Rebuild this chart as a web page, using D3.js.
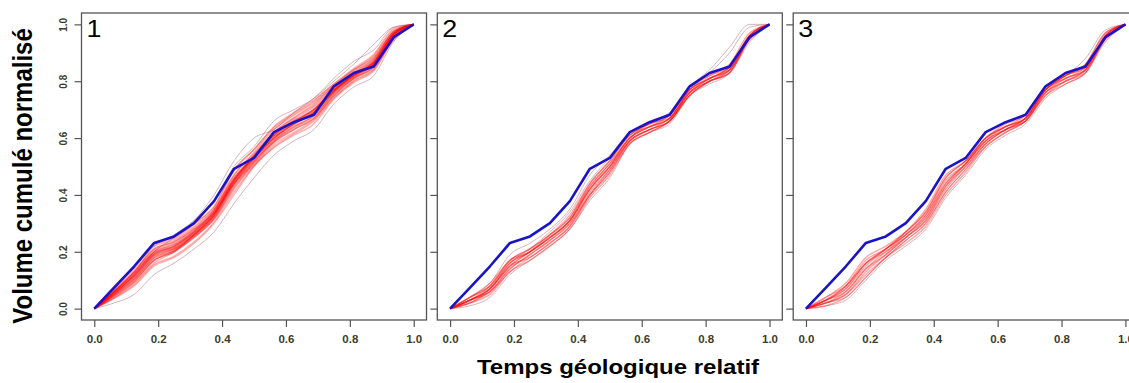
<!DOCTYPE html>
<html><head><meta charset="utf-8">
<script src="https://cdn.jsdelivr.net/npm/d3@7"></script>
<style>body{margin:0;background:#fff}svg{display:block}</style>
</head><body>
<svg id="c" width="1129" height="383"></svg>
<script>
// x positions of the cumulative steps (relative geological time)
const timeSteps = [0,0.0625,0.125,0.1875,0.25,0.3125,0.375,0.4375,0.5,0.5625,0.625,0.6875,0.75,0.8125,0.875,0.9375,1];
// observed (blue) curve, same in each panel
const observed = [0,0.074,0.149,0.231,0.254,0.301,0.378,0.492,0.530,0.621,0.656,0.682,0.782,0.829,0.852,0.955,1];

// simulated curves, panel 1
const sim1 = [
 [0,.057,.115,.19,.215,.265,.33,.445,.53,.60,.65,.69,.765,.82,.865,.965,1],
 [0,.047,.10,.17,.20,.25,.315,.42,.515,.585,.63,.67,.75,.81,.85,.955,1],
 [0,.068,.133,.21,.235,.285,.35,.47,.545,.62,.67,.715,.78,.83,.88,.975,1],
 [0,.036,.08,.15,.18,.23,.30,.40,.50,.566,.61,.65,.737,.795,.837,.945,1],
 [0,.08,.15,.23,.25,.30,.36,.49,.56,.64,.69,.735,.79,.845,.895,.985,1],
 [0,.05,.105,.18,.21,.26,.325,.44,.52,.59,.64,.68,.76,.815,.86,.96,1],
 [0,.06,.125,.20,.225,.275,.34,.455,.535,.61,.66,.70,.77,.825,.87,.97,1],
 [0,.04,.09,.16,.20,.26,.33,.45,.53,.61,.66,.70,.77,.82,.86,.965,1],
 [0,.065,.13,.21,.235,.28,.34,.44,.51,.585,.63,.67,.75,.81,.85,.96,1],
 [0,.055,.115,.19,.22,.27,.345,.47,.55,.63,.68,.725,.785,.84,.885,.975,1],
 [0,.045,.095,.17,.20,.255,.325,.44,.525,.60,.65,.69,.765,.82,.865,.965,1],
 [0,.075,.14,.22,.24,.29,.35,.46,.53,.60,.65,.69,.765,.82,.865,.965,1],
 [0,.052,.105,.18,.205,.26,.32,.435,.52,.594,.64,.68,.758,.814,.858,.96,1],
 [0,.06,.12,.195,.22,.27,.335,.45,.535,.61,.655,.70,.77,.823,.868,.968,1],
 [0,.038,.085,.155,.185,.235,.305,.41,.502,.57,.615,.66,.74,.80,.84,.95,1],
 [0,.077,.145,.225,.245,.297,.358,.485,.56,.636,.685,.73,.79,.84,.89,.98,1],
 [0,.049,.103,.176,.203,.25,.318,.43,.515,.59,.635,.676,.755,.81,.855,.958,1],
 [0,.063,.128,.205,.23,.28,.345,.46,.54,.617,.665,.71,.776,.828,.875,.972,1],
 [0,.053,.11,.185,.21,.255,.315,.425,.505,.577,.62,.665,.745,.803,.845,.953,1],
 [0,.044,.095,.17,.205,.26,.335,.455,.54,.62,.672,.72,.783,.835,.88,.975,1],
 [0,.062,.125,.20,.226,.275,.34,.455,.538,.612,.66,.703,.772,.826,.872,.97,1],
 [0,.058,.117,.192,.216,.266,.331,.447,.532,.603,.652,.694,.766,.821,.866,.966,1],
 [0,.055,.112,.186,.212,.262,.328,.44,.527,.598,.647,.69,.762,.818,.862,.963,1],
 [0,.059,.12,.196,.22,.27,.334,.45,.535,.607,.656,.698,.768,.823,.868,.967,1]
];
const out1 = [
 [0,.05,.12,.20,.25,.31,.40,.52,.60,.63,.69,.74,.80,.86,.93,.99,1],
 [0,.02,.05,.12,.16,.21,.27,.37,.46,.54,.59,.63,.72,.78,.82,.94,1],
 [0,.06,.13,.22,.26,.31,.38,.50,.57,.66,.70,.74,.81,.87,.91,.99,1]
];
// panel 2
const sim2 = [
 [0,.03,.07,.15,.20,.25,.31,.42,.50,.60,.64,.67,.76,.81,.84,.95,1],
 [0,.02,.06,.14,.19,.24,.30,.40,.48,.59,.63,.66,.75,.80,.83,.95,1],
 [0,.04,.08,.17,.21,.26,.32,.44,.52,.61,.64,.67,.77,.81,.85,.96,1],
 [0,.03,.07,.15,.18,.23,.29,.40,.49,.59,.63,.66,.76,.80,.84,.95,1],
 [0,.02,.05,.13,.17,.22,.28,.39,.47,.58,.62,.66,.75,.80,.83,.94,1],
 [0,.03,.08,.17,.21,.26,.32,.43,.51,.60,.65,.67,.77,.82,.85,.96,1],
 [0,.04,.09,.17,.20,.25,.31,.42,.50,.60,.64,.68,.77,.81,.84,.96,1],
 [0,.03,.06,.14,.19,.24,.30,.41,.49,.59,.63,.66,.76,.80,.83,.95,1],
 [0,.02,.07,.16,.20,.25,.31,.42,.50,.59,.63,.67,.76,.81,.85,.96,1],
 [0,.03,.07,.15,.20,.26,.33,.44,.52,.61,.65,.68,.78,.82,.86,.97,1],
 [0,.03,.06,.13,.18,.23,.29,.40,.48,.58,.62,.66,.75,.80,.84,.95,1],
 [0,.04,.08,.16,.20,.25,.31,.43,.51,.60,.64,.67,.77,.81,.85,.96,1]
];
const out2 = [
 [0,.04,.09,.19,.23,.28,.35,.47,.54,.62,.66,.69,.78,.83,.90,.99,1],
 [0,.03,.07,.16,.21,.27,.34,.45,.53,.61,.65,.68,.78,.84,.92,1.0,1],
 [0,.01,.04,.12,.17,.22,.28,.38,.46,.58,.62,.65,.75,.79,.83,.95,1]
];
// panel 3
const sim3 = [
 [0,.03,.07,.15,.21,.26,.33,.45,.51,.59,.63,.67,.77,.81,.84,.96,1],
 [0,.02,.05,.13,.19,.25,.31,.42,.50,.58,.63,.66,.76,.80,.84,.95,1],
 [0,.04,.09,.18,.22,.27,.34,.46,.52,.60,.64,.67,.77,.82,.85,.96,1],
 [0,.02,.05,.12,.18,.24,.30,.41,.49,.57,.62,.66,.75,.80,.83,.95,1],
 [0,.03,.08,.17,.21,.27,.35,.47,.52,.60,.65,.68,.78,.82,.86,.97,1],
 [0,.01,.04,.11,.18,.23,.29,.40,.48,.57,.62,.66,.75,.79,.83,.94,1],
 [0,.03,.07,.16,.20,.26,.32,.44,.51,.59,.64,.67,.77,.81,.85,.96,1],
 [0,.04,.08,.16,.21,.26,.33,.44,.51,.60,.64,.67,.77,.82,.86,.97,1],
 [0,.02,.06,.14,.20,.25,.32,.43,.50,.58,.63,.67,.76,.81,.84,.96,1],
 [0,.03,.06,.14,.19,.25,.31,.43,.51,.59,.63,.66,.76,.80,.84,.95,1],
 [0,.03,.08,.16,.21,.27,.34,.46,.52,.60,.64,.68,.77,.82,.85,.96,1]
];
const out3 = [
 [0,.01,.03,.10,.17,.22,.28,.39,.47,.56,.61,.65,.74,.79,.83,.95,1],
 [0,.02,.04,.11,.18,.24,.30,.41,.49,.58,.63,.67,.77,.82,.88,.98,1]
];

const panelLabels = ["1","2","3"];
const tickValues = [0,0.2,0.4,0.6,0.8,1.0];
const xTitle = "Temps géologique relatif";
const yTitle = "Volume cumulé normalisé";

const panels = [
  {label: panelLabels[0], sims: sim1, outs: out1, left: 81.5},
  {label: panelLabels[1], sims: sim2, outs: out2, left: 437.3},
  {label: panelLabels[2], sims: sim3, outs: out3, left: 793.2}
];
const pw = 345, pTop = 13, pBottom = 320;
const svg = d3.select("#c");
const font = "'Liberation Sans', Arial, sans-serif";

panels.forEach((p, i) => {
  const x = d3.scaleLinear().domain([-0.04, 1.04]).range([p.left, p.left + pw]);
  const y = d3.scaleLinear().domain([-0.04, 1.04]).range([pBottom, pTop]);
  const g = svg.append("g");
  const clipId = "clip" + i;
  svg.append("clipPath").attr("id", clipId).append("rect")
    .attr("x", p.left).attr("y", pTop).attr("width", pw).attr("height", pBottom - pTop);
  const plot = g.append("g").attr("clip-path", `url(#${clipId})`);
  const line = d3.line().x((d, k) => x(timeSteps[k])).y(d => y(d)).curve(d3.curveMonotoneX);
  const lineL = d3.line().x((d, k) => x(timeSteps[k])).y(d => y(d));
  plot.selectAll("path.out").data(p.outs).join("path").attr("class", "out")
    .attr("d", line).attr("fill", "none").attr("stroke", "rgb(190,130,140)")
    .attr("stroke-opacity", 0.6).attr("stroke-width", 1);
  plot.selectAll("path.sim").data(p.sims).join("path").attr("class", "sim")
    .attr("d", line).attr("fill", "none").attr("stroke", "rgb(255,10,10)")
    .attr("stroke-opacity", i === 0 ? 0.32 : 0.36).attr("stroke-width", 1.4);
  plot.append("path").datum(observed).attr("d", lineL).attr("fill", "none")
    .attr("stroke", "#1a14c8").attr("stroke-width", 2.6).attr("stroke-linejoin", "round");

  // frame
  g.append("rect").attr("x", p.left).attr("y", pTop).attr("width", pw).attr("height", pBottom - pTop)
    .attr("fill", "none").attr("stroke", "#555").attr("stroke-width", 1.3);

  // x axis
  const xa = g.append("g").attr("transform", `translate(0,${pBottom})`)
    .call(d3.axisBottom(x).tickValues(tickValues).tickFormat(d3.format(".1f")).tickSize(7).tickPadding(8));
  xa.select(".domain").remove();
  xa.selectAll("line").attr("stroke", "#555").attr("stroke-width", 1.2);
  xa.selectAll("text").attr("font-family", font).attr("font-size", 11.5).attr("font-weight", "bold").attr("fill", "#3a3d2c");

  // y axis
  const ya = g.append("g").attr("transform", `translate(${p.left},0)`)
    .call(d3.axisLeft(y).tickValues(tickValues).tickFormat(d3.format(".1f")).tickSize(7));
  ya.select(".domain").remove();
  ya.selectAll("line").attr("stroke", "#555").attr("stroke-width", 1.2);
  if (i === 0) {
    ya.selectAll("text").attr("font-family", font).attr("font-size", 10).attr("font-weight", "bold")
      .attr("fill", "#3a3d2c").attr("text-anchor", "middle").attr("x", 0).attr("y", 0).attr("dy", "0.35em")
      .attr("transform", "translate(-18.5,0) rotate(-90)");
  } else {
    ya.selectAll("text").remove();
  }

  g.append("text").attr("transform", `translate(${p.left + 5},${pTop + 24}) scale(1.12,1)`).text(p.label)
    .attr("font-family", font).attr("font-size", 24).attr("fill", "#000");
});

svg.append("text").attr("transform", "translate(618,374) scale(1.2,1)").attr("text-anchor", "middle")
  .attr("font-family", font).attr("font-weight", "bold").attr("font-size", 20).text(xTitle);
svg.append("text").attr("transform", "translate(32,176) scale(1.12,1) rotate(-90)").attr("text-anchor", "middle")
  .attr("font-family", font).attr("font-weight", "bold").attr("font-size", 24).text(yTitle);
</script>
</body></html>
